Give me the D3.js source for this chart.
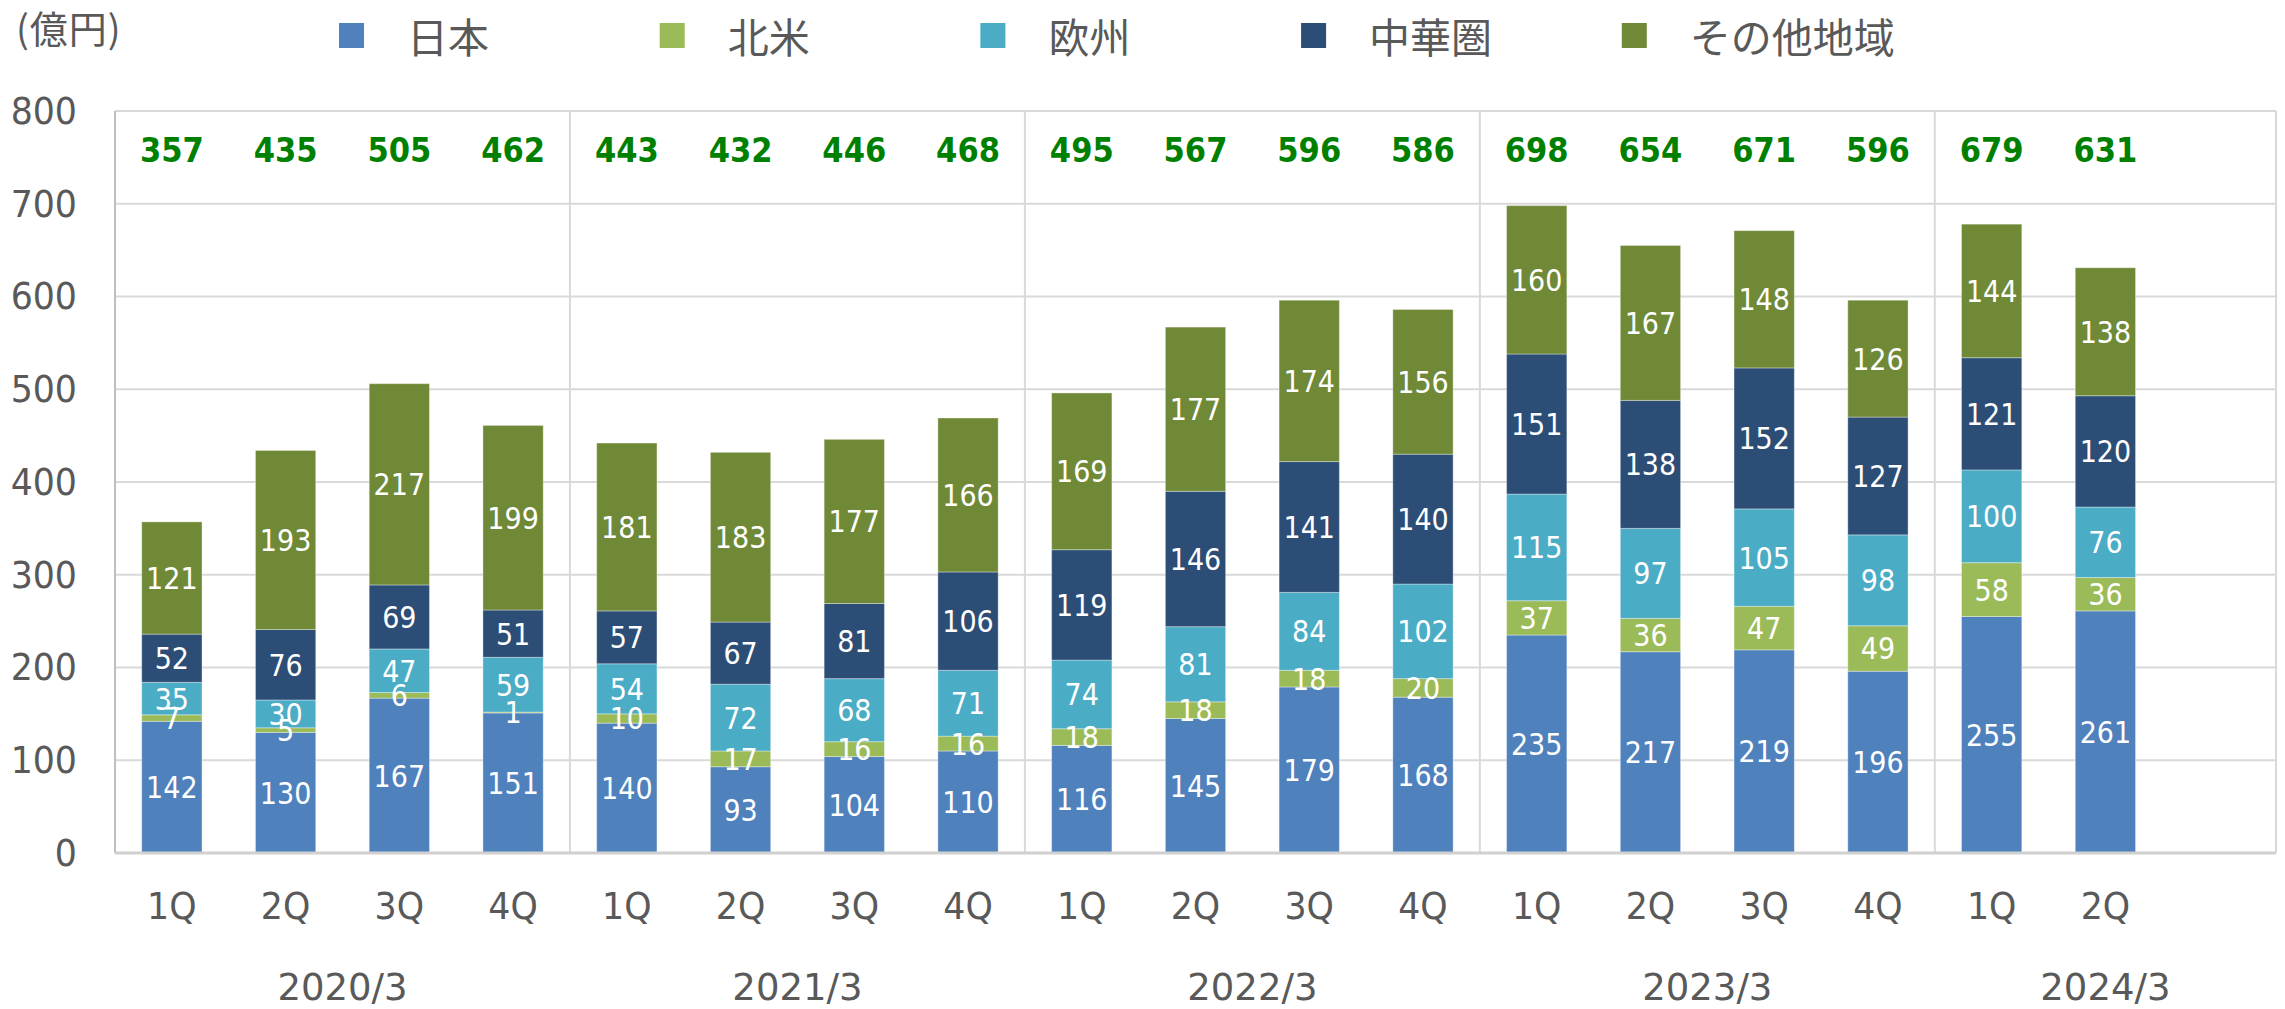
<!DOCTYPE html>
<html><head><meta charset="utf-8">
<script src="https://cdn.jsdelivr.net/npm/d3@7"></script>
<style>
html,body{margin:0;padding:0;background:#fff;}
svg{display:block;}
</style></head>
<body>
<svg id="chart" width="2285" height="1009"></svg>
<script>
const fiscalYears = ["2020/3","2021/3","2022/3","2023/3","2024/3"];
const quarterLabels = ["1Q","2Q","3Q","4Q","1Q","2Q","3Q","4Q","1Q","2Q","3Q","4Q","1Q","2Q","3Q","4Q","1Q","2Q"];
const seriesNames = ["日本","北米","欧州","中華圏","その他地域"];
const seriesColors = ["#4F81BD","#9BBB59","#4BACC6","#2C4D75","#6F8937"];
const japan   = [142,130,167,151,140,93,104,110,116,145,179,168,235,217,219,196,255,261];
const northAm = [7,5,6,1,10,17,16,16,18,18,18,20,37,36,47,49,58,36];
const europe  = [35,30,47,59,54,72,68,71,74,81,84,102,115,97,105,98,100,76];
const china   = [52,76,69,51,57,67,81,106,119,146,141,140,151,138,152,127,121,120];
const others  = [121,193,217,199,181,183,177,166,169,177,174,156,160,167,148,126,144,138];
const totals  = [357,435,505,462,443,432,446,468,495,567,596,586,698,654,671,596,679,631];
const yTicks  = [0,100,200,300,400,500,600,700,800];
const unitLabel = "(億円)";

(function () {
const series = [japan, northAm, europe, china, others];
const nSlots = 19; // 18 quarters + one empty slot at the end of 2024/3
const groupSize = 4;

const svg = d3.select("#chart");
const pL = 115, pR = 2276, pT = 111, pB = 853;
const font = "'DejaVu Sans','Noto Sans CJK JP',sans-serif";
const cjk = "'Noto Sans CJK JP','DejaVu Sans',sans-serif";

const x = d3.scaleBand().domain(d3.range(nSlots)).range([pL, pR]).paddingInner(0.47).paddingOuter(0.235);
const step = (pR - pL) / nSlots;
const y = d3.scaleLinear().domain([0, 800]).range([pB, pT]);
const tr = (px, py, sx) => `translate(${px},${py}) scale(${sx},1)`;

// gridlines
svg.append("g").selectAll("line").data(yTicks.filter(t => t > 0)).join("line")
  .attr("x1", pL).attr("x2", pR)
  .attr("y1", d => y(d)).attr("y2", d => y(d))
  .attr("stroke", "#d9d9d9").attr("stroke-width", 2);

// group separators
const bounds = [4, 8, 12, 16, 19];
svg.append("g").selectAll("line").data(bounds).join("line")
  .attr("x1", d => pL + d * step).attr("x2", d => pL + d * step)
  .attr("y1", pT).attr("y2", pB)
  .attr("stroke", "#d9d9d9").attr("stroke-width", 2);

// y axis labels
svg.append("g").selectAll("text").data(yTicks).join("text")
  .attr("transform", d => tr(77, y(d), 0.94))
  .attr("text-anchor", "end").attr("dominant-baseline", "central")
  .attr("font-family", font).attr("font-size", 37).attr("fill", "#595959")
  .text(d => d);

// stacked data
const rows = quarterLabels.map((q, i) => {
  const r = {i};
  seriesNames.forEach((s, k) => r[s] = series[k][i]);
  return r;
});
const stacked = d3.stack().keys(seriesNames)(rows);

const layers = svg.append("g").selectAll("g").data(stacked).join("g")
  .attr("fill", (d, k) => seriesColors[k]);
layers.selectAll("rect").data(d => d).join("rect")
  .attr("x", d => x(d.data.i)).attr("width", x.bandwidth())
  .attr("y", d => y(d[1])).attr("height", d => y(d[0]) - y(d[1]))
  .attr("stroke", "#ffffff").attr("stroke-opacity", 0.35).attr("stroke-width", 1);

// segment labels
const lbl = svg.append("g");
stacked.forEach((layer, k) => {
  lbl.selectAll(null).data(layer).join("text")
    .attr("transform", d => tr(x(d.data.i) + x.bandwidth() / 2, y((d[0] + d[1]) / 2) + 1, 0.9))
    .attr("text-anchor", "middle").attr("dominant-baseline", "central")
    .attr("font-family", font).attr("font-size", 30).attr("fill", "#ffffff")
    .text(d => d.data[seriesNames[k]]);
});

// axes lines
svg.append("line").attr("x1", pL).attr("x2", pL).attr("y1", pT).attr("y2", pB)
  .attr("stroke", "#bfbfbf").attr("stroke-width", 2);
svg.append("line").attr("x1", pL).attr("x2", pR).attr("y1", pB).attr("y2", pB)
  .attr("stroke", "#d0d0d0").attr("stroke-width", 3);

// totals
svg.append("g").selectAll("text").data(totals).join("text")
  .attr("transform", (d, i) => tr(x(i) + x.bandwidth() / 2, 150, 0.9))
  .attr("text-anchor", "middle").attr("dominant-baseline", "central")
  .attr("font-family", font).attr("font-weight", "bold").attr("font-size", 34).attr("fill", "#008000")
  .text(d => d);

// quarter labels
svg.append("g").selectAll("text").data(quarterLabels).join("text")
  .attr("transform", (d, i) => tr(x(i) + x.bandwidth() / 2, 906, 0.94))
  .attr("text-anchor", "middle").attr("dominant-baseline", "central")
  .attr("font-family", font).attr("font-size", 37).attr("fill", "#595959")
  .text(d => d);

// fiscal year labels
svg.append("g").selectAll("text").data(fiscalYears).join("text")
  .attr("transform", (d, g) => {
    const s0 = g * groupSize, s1 = Math.min(s0 + groupSize, nSlots);
    return tr(pL + (s0 + s1) / 2 * step, 987, 1);
  })
  .attr("text-anchor", "middle").attr("dominant-baseline", "central")
  .attr("font-family", font).attr("font-size", 37).attr("fill", "#595959")
  .text(d => d);

// unit label
svg.append("text").attr("x", 16).attr("y", 26).attr("dominant-baseline", "central")
  .attr("font-family", cjk).attr("font-size", 38).attr("fill", "#595959")
  .attr("letter-spacing", 1)
  .text(unitLabel);

// legend
const lg = svg.append("g").selectAll("g").data(seriesNames).join("g")
  .attr("transform", (d, k) => `translate(${339 + k * 320.7},0)`);
lg.append("rect").attr("x", 0).attr("y", 23).attr("width", 25).attr("height", 25)
  .attr("fill", (d, k) => seriesColors[k]);
lg.append("text").attr("x", 68).attr("y", 35).attr("dominant-baseline", "central")
  .attr("font-family", cjk).attr("font-size", 41).attr("fill", "#595959")
  .text(d => d);
})();
</script>
</body></html>
